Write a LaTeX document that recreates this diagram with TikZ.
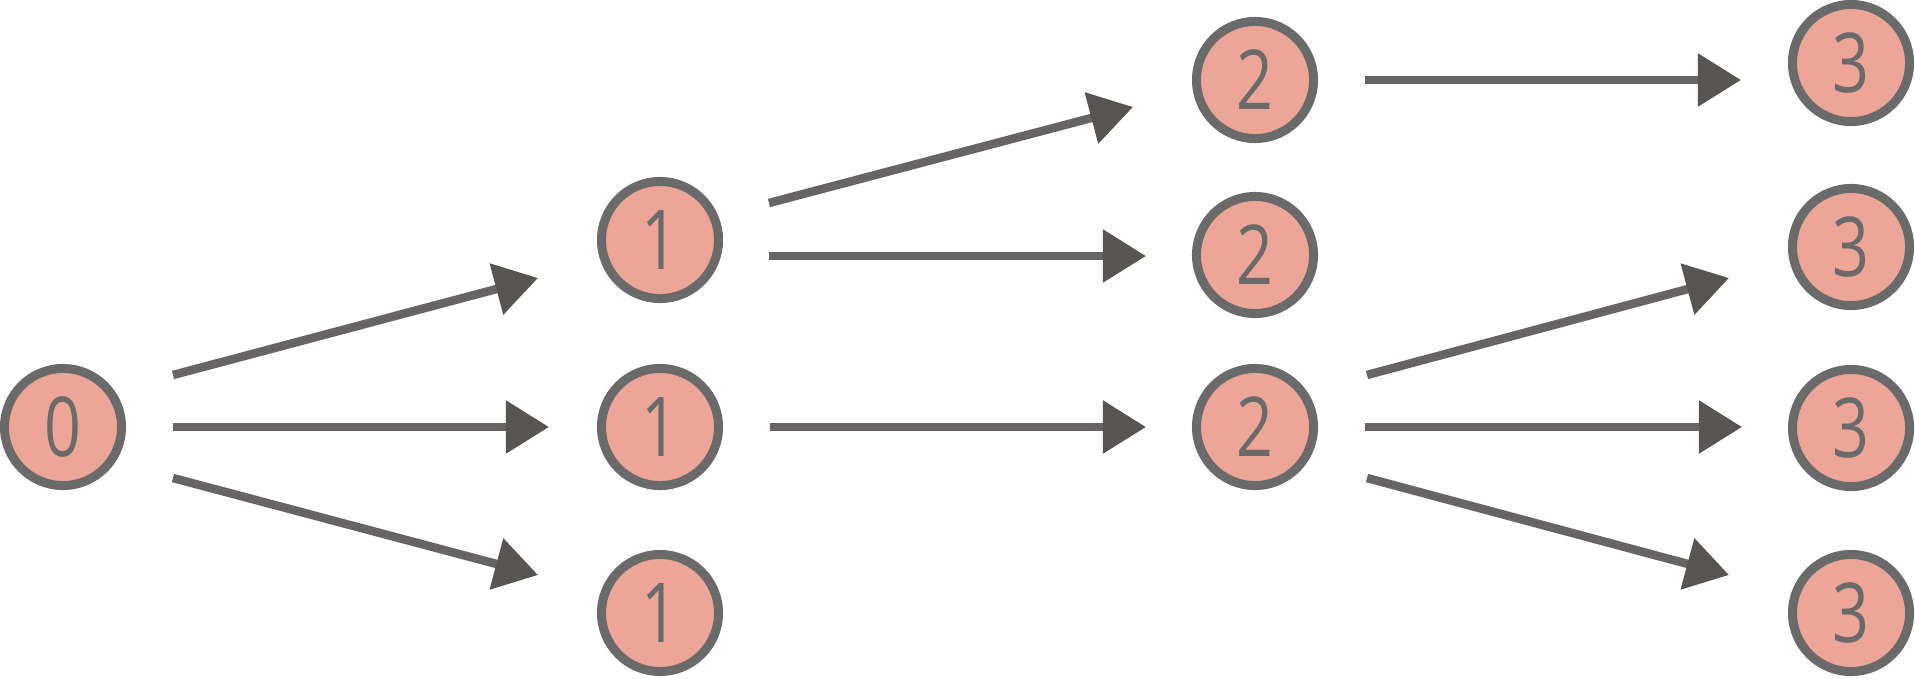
\documentclass[tikz,border=0pt]{standalone}
\usepackage{fontspec}
\setmainfont{Open Sans}
\usepackage{tikz}
\usetikzlibrary{arrows.meta,calc}
\definecolor{salmon}{HTML}{EBA697}
\definecolor{ringgray}{HTML}{6A6A6A}
\definecolor{linegray}{HTML}{666564}
\definecolor{tipgray}{HTML}{575552}
\newcommand{\lvl}[1]{\scalebox{0.78}[1]{#1}}

\tikzset{
  state/.style={circle, draw=ringgray, fill=salmon, line width=0.09cm,
    minimum size=1.17cm, inner sep=0pt, text=ringgray,
    font=\fontsize{23.5}{26}\selectfont},
  edge/.style={line width=0.085cm, draw=linegray,
    -{Triangle[length=0.43cm, width=0.51cm, color=tipgray]}}
}

\begin{document}
\begin{tikzpicture}[x=0.01cm, y=0.01cm]
\useasboundingbox (0,0) rectangle (1915,678);
% levels
\node[state] (n0) at (63,251) {\lvl{0}};
\node[state] (n1a) at (660,438) {\lvl{1}};
\node[state] (n1b) at (660,251) {\lvl{1}};
\node[state] (n1c) at (660,65) {\lvl{1}};
\node[state] (n2a) at (1255,598) {\lvl{2}};
\node[state] (n2b) at (1255,423) {\lvl{2}};
\node[state] (n2c) at (1255,251) {\lvl{2}};
\node[state] (n3a) at (1851,615) {\lvl{3}};
\node[state] (n3b) at (1851,431) {\lvl{3}};
\node[state] (n3c) at (1851,250) {\lvl{3}};
\node[state] (n3d) at (1851,65) {\lvl{3}};
% moves
\draw[edge] ($(n0)+(110,52)$) -- ($(n1a)+(-122,-38)$);
\draw[edge] ($(n0)+(110,0)$) -- ($(n1b)+(-111,0)$);
\draw[edge] ($(n0)+(110,-51)$) -- ($(n1c)+(-122,38)$);
\draw[edge] ($(n1a)+(109,37)$) -- ($(n2a)+(-122,-27)$);
\draw[edge] ($(n1a)+(109,-16)$) -- ($(n2b)+(-109,-1)$);
\draw[edge] ($(n1b)+(110,0)$) -- ($(n2c)+(-109,0)$);
\draw[edge] ($(n2a)+(110,0)$) -- ($(n3a)+(-110,-17)$);
\draw[edge] ($(n2c)+(112,52)$) -- ($(n3b)+(-122,-31)$);
\draw[edge] ($(n2c)+(110,0)$) -- ($(n3c)+(-109,1)$);
\draw[edge] ($(n2c)+(112,-51)$) -- ($(n3d)+(-122,38)$);
\end{tikzpicture}
\end{document}
